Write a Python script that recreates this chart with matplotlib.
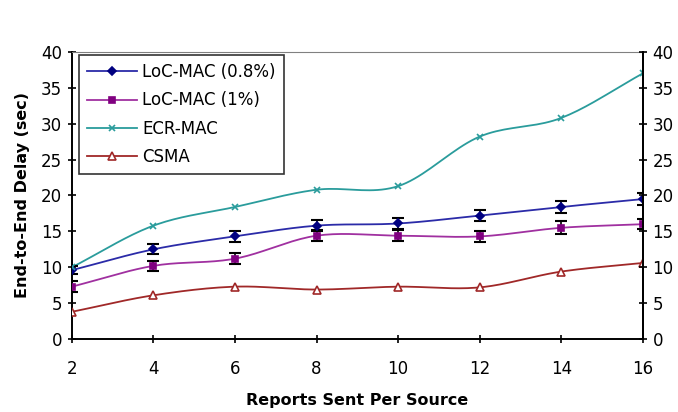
import numpy as np
import matplotlib
matplotlib.use("Agg")
import matplotlib.pyplot as plt

plt.rcParams['font.family'] = ['DejaVu Sans']

# data
reports = [2, 4, 6, 8, 10, 12, 14, 16]
loc08 = [9.6, 12.5, 14.3, 15.8, 16.1, 17.2, 18.4, 19.5]
loc08_err = [0.6, 0.7, 0.8, 0.8, 0.7, 0.8, 0.8, 0.8]
loc1 = [7.3, 10.2, 11.2, 14.4, 14.4, 14.3, 15.5, 16.0]
loc1_err = [0.8, 0.7, 0.8, 0.8, 0.8, 0.8, 0.9, 0.7]
ecr = [10.0, 15.8, 18.4, 20.8, 21.3, 28.2, 30.8, 37.0]
csma = [3.8, 6.1, 7.3, 6.9, 7.3, 7.2, 9.4, 10.6]


def smooth(x, y, n=20):
    """Catmull-Rom curve through the points, like Excel's smoothed line"""
    x = np.asarray(x, float)
    y = np.asarray(y, float)
    px = np.concatenate([[2 * x[0] - x[1]], x, [2 * x[-1] - x[-2]]])
    py = np.concatenate([[2 * y[0] - y[1]], y, [2 * y[-1] - y[-2]]])
    xs, ys = [], []
    t = np.linspace(0, 1, n, endpoint=False)
    for i in range(1, len(px) - 2):
        for p, out in ((px, xs), (py, ys)):
            p0, p1, p2, p3 = p[i - 1], p[i], p[i + 1], p[i + 2]
            out.extend(0.5 * (2 * p1 + (-p0 + p2) * t
                              + (2 * p0 - 5 * p1 + 4 * p2 - p3) * t ** 2
                              + (-p0 + 3 * p1 - 3 * p2 + p3) * t ** 3))
    xs.append(x[-1])
    ys.append(y[-1])
    return xs, ys


fig = plt.figure(figsize=(6.78, 4.12), dpi=100)
ax = fig.add_axes([0.106, 0.177, 0.842, 0.697])

series = [
    ("LoC-MAC (0.8%)", loc08, loc08_err, "#2b2ba8", "#000080", "D", 4, True),
    ("LoC-MAC (1%)", loc1, loc1_err, "#a030a0", "#800080", "s", 4, True),
    ("ECR-MAC", ecr, None, "#2a9c9c", "#2a9c9c", "x", 5, False),
    ("CSMA", csma, None, "#a02828", "#a02828", "^", 6, False),
]

handles = []
for label, vals, err, lc, mc, mk, ms, filled in series:
    sx, sy = smooth(reports, vals)
    ax.plot(sx, sy, color=lc, lw=1.3, zorder=3)
    if err is not None:
        ax.errorbar(reports, vals, yerr=err, fmt="none", ecolor="black",
                    elinewidth=1.2, capsize=4, capthick=1.5, zorder=4)
    ax.plot(reports, vals, ls="none", marker=mk, ms=ms,
            mfc=mc if filled else "white", mec=mc, mew=1.2, zorder=5)
    h, = ax.plot([], [], color=lc, lw=1.3, marker=mk, ms=ms,
                 mfc=mc if filled else "white", mec=mc, mew=1.2)
    h.set_label(label)
    handles.append(h)

ax.set_xlim(2, 16)
ax.set_ylim(0, 40)
ax.set_xticks(reports)
ax.set_yticks(range(0, 41, 5))
ax.tick_params(axis="both", labelsize=12, direction="inout", length=6,
               width=1.2, colors="black")
ax.tick_params(axis="x", pad=12)
ax.tick_params(axis="y", pad=4)

for s in ("left", "bottom"):
    ax.spines[s].set_linewidth(1.4)
ax.spines["top"].set_color("#808080")
ax.spines["top"].set_linewidth(0.8)
ax.spines["right"].set_linewidth(1.4)

ax2 = ax.twinx()
ax2.set_ylim(0, 40)
ax2.set_yticks(range(0, 41, 5))
ax2.tick_params(axis="y", labelsize=12, direction="inout", length=6,
                width=1.2, pad=4)
for s in ("top", "left", "bottom"):
    ax2.spines[s].set_visible(False)
ax2.spines["right"].set_linewidth(1.4)

ax.set_xlabel("Reports Sent Per Source", fontsize=11.5, fontweight="bold",
              labelpad=11)
ax.set_ylabel("End-to-End Delay (sec)", fontsize=11.5, fontweight="bold",
              labelpad=8)

leg = ax.legend(handles=handles, loc="upper left", bbox_to_anchor=(0.012, 0.99),
                fontsize=12, frameon=True, fancybox=False, edgecolor="black",
                handlelength=3.0, handletextpad=0.3, borderpad=0.5,
                labelspacing=0.62, borderaxespad=0.0)
leg.get_frame().set_linewidth(1.2)
leg.set_zorder(10)

fig.savefig("out.png", dpi=100)
